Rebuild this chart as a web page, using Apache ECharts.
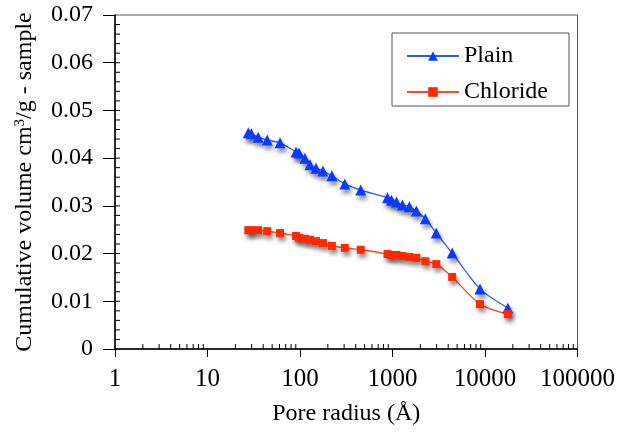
<!DOCTYPE html>
<html>
<head>
<meta charset="utf-8">
<script src="https://cdn.jsdelivr.net/npm/echarts@6/dist/echarts.min.js"></script>
<style>
  html, body { margin: 0; padding: 0; background: #fff; }
  #main { width: 618px; height: 432px; }
</style>
</head>
<body>
<div id="main"></div>
<script>
// pore radius (Å) and cumulative volume (cm3/g)
var plainRadius = [27.6, 29.7, 35.3, 44.2, 60.9, 90.6, 97.6, 113, 128, 149, 177, 221, 305,
    453, 883, 975, 1104, 1282, 1524, 1813, 2265, 2973, 4416, 8830, 17660];
var plainVolume = [0.0453, 0.0451, 0.0444, 0.0438, 0.0432, 0.0413, 0.0411, 0.0400, 0.0386, 0.0379, 0.0373, 0.0363, 0.0346,
    0.0333, 0.0317, 0.0312, 0.0308, 0.0302, 0.0298, 0.0289, 0.0273, 0.0243, 0.0201, 0.0126, 0.0086];

var chlorideRadius = [27.6, 29.7, 35.3, 44.2, 60.9, 90.6, 97.6, 113, 128, 149, 177, 221, 305,
    453, 883, 975, 1104, 1282, 1524, 1813, 2265, 2973, 4416, 8830, 17660];
var chlorideVolume = [0.0249, 0.0249, 0.0249, 0.0247, 0.0243, 0.0237, 0.0233, 0.0231, 0.0229, 0.0226, 0.0222, 0.0216, 0.0212,
    0.0208, 0.0199, 0.0197, 0.0197, 0.0195, 0.0193, 0.0191, 0.0184, 0.0178, 0.0151, 0.0094, 0.0073];

var xMin = 1, xMax = 100000;
var yMin = 0, yMax = 0.07, yStep = 0.01, yMinorStep = 0.002;

function pairs(xs, ys) {
    var out = [];
    for (var i = 0; i < xs.length; i++) out.push([xs[i], ys[i]]);
    return out;
}

// small inside ticks: 2..9 per decade on x, every 0.002 on y
var minorTicks = [];
for (var k = 0; k < 5; k++) {
    for (var m = 2; m <= 9; m++) minorTicks.push([m * Math.pow(10, k), 0, 0]);
}
for (var j = 1; j < Math.round(yMax / yMinorStep); j++) {
    minorTicks.push([1, +(j * yMinorStep).toFixed(3), 1]);
}

var font = '"Liberation Serif", "Times New Roman", serif';
var chart = echarts.init(document.getElementById('main'));

var markShadow = {
    shadowColor: 'rgba(0,0,0,0.45)',
    shadowBlur: 4,
    shadowOffsetX: 2,
    shadowOffsetY: 4
};

var option = {
    animation: false,
    textStyle: { fontFamily: font },
    grid: {
        left: 115, right: 38, top: 15, bottom: 83,
        show: true, borderColor: '#555', borderWidth: 1
    },
    legend: {
        orient: 'vertical',
        left: 392, top: 33,
        data: ['Plain', 'Chloride'],
        backgroundColor: '#fff',
        borderColor: '#555', borderWidth: 1,
        padding: [11, 21, 2, 14],
        itemWidth: 52, itemHeight: 12, itemGap: 12,
        textStyle: { fontFamily: font, fontSize: 24, color: '#000' }
    },
    xAxis: {
        type: 'log', logBase: 10,
        min: xMin, max: xMax, interval: 1,
        name: 'Pore radius (Å)',
        nameLocation: 'middle', nameGap: 53,
        nameTextStyle: { fontFamily: font, fontSize: 24, color: '#000' },
        axisLine: { lineStyle: { color: '#000', width: 1.5 } },
        axisTick: { inside: false, length: 8, lineStyle: { color: '#000' } },
        axisLabel: {
            margin: 18, fontFamily: font, fontSize: 25, color: '#000',
            formatter: function (v) { return String(Math.round(v)); }
        },
        splitLine: { show: false }
    },
    yAxis: {
        type: 'value',
        min: yMin, max: yMax, interval: yStep,
        name: 'Cumulative volume cm{sup|3}/g - sample',
        nameLocation: 'middle', nameGap: 78,
        nameTextStyle: {
            fontFamily: font, fontSize: 24, color: '#000',
            rich: { sup: { fontFamily: font, fontSize: 15, verticalAlign: 'top', padding: [0, 0, 9, 0] } }
        },
        axisLine: { lineStyle: { color: '#000', width: 1.5 } },
        axisTick: { inside: false, length: 12, lineStyle: { color: '#000' } },
        axisLabel: {
            margin: 22, fontFamily: font, fontSize: 24, color: '#000',
            formatter: function (v) { return v === 0 ? '0' : v.toFixed(2); }
        },
        splitLine: { show: false }
    },
    series: [
        {
            name: 'Plain', type: 'line',
            data: pairs(plainRadius, plainVolume),
            smooth: 0.3,
            symbol: 'triangle', symbolSize: 11,
            lineStyle: { color: '#2a5cff', width: 1.3 },
            itemStyle: Object.assign({ color: '#0a3cff' }, markShadow),
            z: 3
        },
        {
            name: 'Chloride', type: 'line',
            data: pairs(chlorideRadius, chlorideVolume),
            smooth: 0.3,
            symbol: 'rect', symbolSize: 8,
            lineStyle: { color: '#ff4a2a', width: 1.3 },
            itemStyle: Object.assign({ color: '#ff2a00' }, markShadow),
            z: 3
        },
        {
            name: 'minor', type: 'custom',
            silent: true, clip: false,
            data: minorTicks,
            encode: { x: 0, y: 1 },
            renderItem: function (params, api) {
                var p = api.coord([api.value(0), api.value(1)]);
                var isY = api.value(2) === 1;
                return {
                    type: 'line',
                    shape: isY
                        ? { x1: p[0], y1: p[1], x2: p[0] + 5, y2: p[1] }
                        : { x1: p[0], y1: p[1], x2: p[0], y2: p[1] - 5 },
                    style: { stroke: '#000', lineWidth: 1 }
                };
            },
            z: 1
        }
    ]
};

chart.setOption(option);
</script>
</body>
</html>
